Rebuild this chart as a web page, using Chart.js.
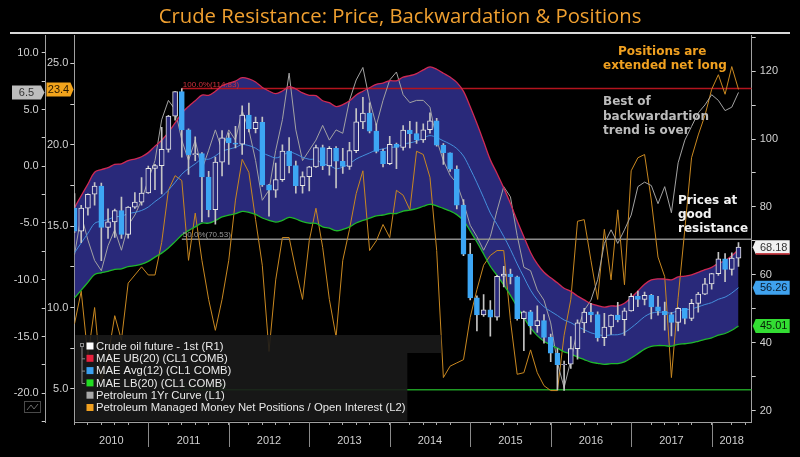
<!DOCTYPE html>
<html><head><meta charset="utf-8">
<style>html,body{margin:0;padding:0;background:#000;overflow:hidden}canvas{display:block}</style>
<script src="https://cdn.jsdelivr.net/npm/chart.js@4.4.0/dist/chart.umd.min.js"></script>
</head><body>
<canvas id="c" width="800" height="457"></canvas>
<script>
const TITLE = 'Crude Resistance: Price, Backwardation & Positions';
const yearLabels = ['2010','2011','2012','2013','2014','2015','2016','2017','2018'];
const months = [];
for (let y = 2010; y <= 2018; y++) for (let m = 1; m <= 12; m++) { if (y === 2018 && m > 4) break; months.push(y + '-' + String(m).padStart(2, '0')); }

const open = [79.63,72.86,79.66,83.76,86.15,73.97,75.63,78.95,71.92,79.97,81.43,84.11,
91.38,92.19,96.97,106.72,113.93,102.70,95.42,95.70,88.81,79.20,93.19,100.36,
98.83,98.48,107.07,103.02,104.87,86.53,84.96,88.06,96.47,92.19,86.24,88.91,
91.82,97.49,92.05,97.23,93.46,91.97,96.56,105.03,107.65,102.33,96.38,92.72,
98.42,97.49,102.59,101.58,99.74,102.71,105.37,98.17,95.96,91.16,80.54,66.15,
53.27,48.24,49.76,47.60,59.63,60.30,59.47,47.12,49.20,45.09,46.59,41.65,
37.04,33.62,33.75,38.34,45.92,49.10,48.33,41.60,44.70,48.24,46.86,49.44,
53.72,52.81,54.01,50.60,49.33,48.32,46.04,50.17,47.23,51.67,54.38,57.40,
60.42,64.73,61.64,64.94];
const high = [83.95,80.51,83.85,87.15,87.00,79.44,79.41,82.93,80.13,84.22,88.63,92.06,
92.58,103.41,106.95,113.93,114.83,102.97,100.62,95.98,90.52,94.65,102.44,101.78,
103.74,109.77,110.55,106.43,106.43,86.70,92.94,98.29,100.42,93.48,90.33,91.98,
98.24,98.24,97.80,97.80,97.26,99.04,108.93,112.24,110.67,104.46,97.00,100.75,
98.80,103.96,105.22,104.99,104.48,107.73,106.08,98.68,95.96,92.09,82.19,69.28,
53.85,54.24,52.48,59.90,62.58,61.75,59.69,49.35,49.58,50.92,48.36,42.59,
38.39,34.69,41.90,46.78,50.21,51.67,49.15,48.75,48.26,51.93,50.30,54.51,
55.24,54.94,54.28,53.76,52.00,48.97,50.43,50.22,52.86,54.90,59.05,60.51,
66.66,66.30,66.55,69.56];
const low = [72.43,69.50,77.57,80.56,64.24,70.75,71.02,70.76,70.82,79.56,80.56,84.00,
85.11,83.85,96.10,105.52,94.63,89.61,93.60,75.71,77.11,74.95,89.15,92.52,
97.38,95.44,102.06,101.80,86.03,77.28,82.80,87.53,90.03,84.05,84.05,84.70,
91.61,90.97,89.33,85.61,89.88,91.07,95.95,103.06,101.82,95.94,91.77,92.44,
91.24,96.70,97.37,98.73,98.98,101.68,97.86,92.50,90.45,79.44,65.69,52.70,
43.58,47.80,42.03,46.70,56.51,57.41,46.68,37.75,42.58,43.11,39.93,34.53,
26.19,26.05,32.53,35.24,43.03,46.19,40.57,39.19,42.52,46.18,42.20,49.39,
50.71,51.22,47.09,48.18,43.76,42.05,43.57,45.58,46.57,49.10,54.20,55.82,
59.85,58.07,59.95,62.50];
const close = [72.89,79.66,83.76,86.15,73.97,75.63,78.95,71.92,79.97,81.43,84.11,91.38,
92.19,96.97,106.72,113.93,102.70,95.42,95.70,88.81,79.20,93.19,100.36,98.83,
98.48,107.07,103.02,104.87,86.53,84.96,88.06,96.47,92.19,86.24,88.91,91.82,
97.49,92.05,97.23,93.46,91.97,96.56,105.03,107.65,102.33,96.38,92.72,98.42,
97.49,102.59,101.58,99.74,102.71,105.37,98.17,95.96,91.16,80.54,66.15,53.27,
48.24,49.76,47.60,59.63,60.30,59.47,47.12,49.20,45.09,46.59,41.65,37.04,
33.62,33.75,38.34,45.92,49.10,48.33,41.60,44.70,48.24,46.86,49.44,53.72,
52.81,54.01,50.60,49.33,48.32,46.04,50.17,47.23,51.67,54.38,57.40,60.42,
64.73,61.64,64.94,68.18];
const maeAvg = [66.52,69.43,72.27,75.19,75.83,76.31,77.10,77.27,78.05,78.41,78.98,79.99,
81.59,83.04,84.95,87.26,89.66,91.31,92.70,94.11,94.05,95.03,96.38,97.00,
97.53,98.37,98.06,97.30,95.96,95.09,94.45,95.09,96.17,95.59,94.64,94.05,
93.97,92.72,92.24,91.28,91.74,92.70,94.12,95.05,95.90,96.74,97.06,97.61,
97.61,98.49,98.85,99.37,100.27,101.00,100.43,99.46,98.52,97.20,94.99,91.23,
87.12,82.72,78.22,74.88,71.35,67.52,63.27,59.37,55.53,52.70,50.66,49.31,
48.09,46.76,45.98,44.84,43.91,42.98,42.52,42.14,42.41,42.43,43.08,44.47,
46.07,47.76,48.78,49.06,49.00,48.81,49.52,49.73,50.02,50.64,51.31,51.87,
52.86,53.49,54.69,56.26];
const maeUB = [79.82,83.32,86.72,90.23,91.00,91.57,92.52,92.72,93.66,94.09,94.78,95.99,
97.91,99.65,101.94,104.71,107.59,109.57,111.24,112.93,112.86,114.04,115.66,116.40,
117.04,118.04,117.67,116.76,115.15,114.11,113.34,114.11,115.40,114.71,113.57,112.86,
112.76,111.26,110.69,109.54,110.09,111.24,112.94,114.06,115.08,116.09,116.47,117.13,
117.13,118.19,118.62,119.24,120.32,121.20,120.52,119.35,118.22,116.64,113.99,109.48,
104.54,99.26,93.86,89.86,85.62,81.02,75.92,71.24,66.64,63.24,60.79,59.17,
57.71,56.11,55.18,53.81,52.69,51.58,51.02,50.57,50.89,50.92,51.70,53.36,
55.28,57.31,58.54,58.87,58.80,58.57,59.42,59.68,60.02,60.77,61.57,62.24,
63.43,64.19,65.63,67.51];
const maeLB = [53.22,55.54,57.82,60.15,60.66,61.05,61.68,61.82,62.44,62.73,63.18,63.99,
65.27,66.43,67.96,69.81,71.73,73.05,74.16,75.29,75.24,76.02,77.10,77.60,
78.02,78.70,78.45,77.84,76.77,76.07,75.56,76.07,76.94,76.47,75.71,75.24,
75.18,74.18,73.79,73.02,73.39,74.16,75.30,76.04,76.72,77.39,77.65,78.09,
78.09,78.79,79.08,79.50,80.22,80.80,80.34,79.57,78.82,77.76,75.99,72.98,
69.70,66.18,62.58,59.90,57.08,54.02,50.62,47.50,44.42,42.16,40.53,39.45,
38.47,37.41,36.78,35.87,35.13,34.38,34.02,33.71,33.93,33.94,34.46,35.58,
36.86,38.21,39.02,39.25,39.20,39.05,39.62,39.78,40.02,40.51,41.05,41.50,
42.29,42.79,43.75,45.01];
const curve1Yr = [-7.8,-4.3,-6.5,-8.3,-9.2,-7.0,-5.6,-7.4,-5.2,-4.3,-3.0,-1.2,
0.5,4.1,5.8,5.0,2.3,0.5,2.3,-0.3,1.4,3.2,1.4,3.2,
2.3,4.9,3.2,0.5,-3.0,-2.1,1.4,4.1,8.2,3.2,0.5,1.4,
2.3,3.6,2.3,3.2,2.9,5.8,7.6,8.7,5.8,3.6,5.8,7.6,
8.3,6.3,5.6,5.8,5.8,5.2,2.3,0.5,-0.8,-1.5,-3.2,-5.2,
-6.2,-7.4,-6.2,-3.9,-1.8,-2.7,-6.1,-8.9,-9.2,-10.9,-11.8,-13.8,
-17.3,-19.5,-17.1,-14.4,-12.7,-11.8,-10.0,-6.8,-5.6,-6.8,-5.6,-4.3,
-1.8,-1.4,-1.7,-3.3,-1.8,-4.1,0.3,2.3,3.5,4.7,5.4,6.3,
5.8,4.9,5.2,6.5];
const netPositions = [9.0,11.0,7.0,10.0,5.5,7.0,9.5,8.0,11.5,12.0,12.5,12.0,
12.0,14.0,17.2,18.1,17.8,12.9,15.8,12.9,10.5,8.6,10.5,12.9,
16.6,19.1,18.3,15.4,12.6,7.3,11.7,14.3,14.3,12.3,10.5,14.1,
16.1,13.7,10.5,8.2,12.9,14.8,17.0,18.4,13.5,14.1,15.1,14.3,
17.2,16.9,16.0,19.6,19.4,18.0,13.5,5.7,6.4,6.6,6.8,9.4,
11.1,12.6,13.2,13.5,13.5,9.2,5.9,6.0,7.4,6.0,5.2,4.9,
4.9,8.3,10.5,15.3,15.4,12.9,10.5,14.8,11.7,16.0,11.4,18.4,
19.2,19.4,16.6,13.1,11.9,5.7,10.6,14.8,19.2,20.6,21.8,23.4,
24.3,23.1,24.8,23.4];
const retraceLevels = [
  {label: '100.0%(114.83)', value: 114.83, color: '#b3141e', text: '#d0303c'},
  {label: '50.0%(70.53)', value: 70.53, color: '#8c8c8c', text: '#9a9a9a'},
  {label: '0.0%(26.23)', value: 26.23, color: '#1f9a24', text: '#2aa02a'}
];
const retraceFrom = '2011-05';

const X_MIN = 0.97, X_MAX = 101.97;
const xOf = i => i + 1; // month-end position
const BAND = '#29297a';
const C_UP = '#e6e6e6', C_DN = '#3da6f4', C_UB = '#cf2a55', C_AVG = '#4590dc', C_LB = '#1fb82a', C_GRAY = '#a3a3a3', C_OR = '#c98820';

const pts = arr => arr.map((v, i) => ({x: xOf(i), y: v}));
const rStart = xOf(months.indexOf(retraceFrom));

const datasets = [
  {type: 'bar', label: 'body', data: months.map((m, i) => ({x: xOf(i), y: [open[i], close[i]]})), yAxisID: 'y', xAxisID: 'x',
   grouped: false, barThickness: 5, borderWidth: 1, borderSkipped: false,
   backgroundColor: c => close[c.dataIndex] >= open[c.dataIndex] ? BAND : C_DN,
   borderColor: c => close[c.dataIndex] >= open[c.dataIndex] ? C_UP : C_DN, order: 1},
  {type: 'bar', label: 'wick', data: months.map((m, i) => ({x: xOf(i), y: [low[i], high[i]]})), yAxisID: 'y', xAxisID: 'x',
   grouped: false, barThickness: 1, borderWidth: 0, backgroundColor: '#c4c4c4', order: 2},
  {type: 'line', label: 'MAE UB(20) (CL1 COMB)', data: pts(maeUB), yAxisID: 'y', borderColor: C_UB, borderWidth: 1.3, pointRadius: 0, tension: 0.35, fill: false, order: 4},
  {type: 'line', label: 'MAE LB(20) (CL1 COMB)', data: pts(maeLB), yAxisID: 'y', borderColor: C_LB, borderWidth: 1.3, pointRadius: 0, tension: 0.35, fill: {target: 2}, backgroundColor: BAND, order: 5},
  {type: 'line', label: 'MAE Avg(12) (CL1 COMB)', data: pts(maeAvg), yAxisID: 'y', borderColor: C_AVG, borderWidth: 1, pointRadius: 0, tension: 0.35, fill: false, order: 6},
  {type: 'line', label: 'Petroleum 1Yr Curve (L1)', data: pts(curve1Yr), yAxisID: 'yL1', borderColor: C_GRAY, borderWidth: 1, pointRadius: 0, tension: 0, fill: false, order: 7},
  {type: 'line', label: 'Petroleum Managed Money Net Positions / Open Interest (L2)', data: pts(netPositions), yAxisID: 'yL2', borderColor: C_OR, borderWidth: 1, pointRadius: 0, tension: 0, fill: false, order: 8}
];
retraceLevels.forEach(r => datasets.push({type: 'line', label: r.label, data: [{x: rStart, y: r.value}, {x: X_MAX, y: r.value}], yAxisID: 'y',
  borderColor: r.color, borderWidth: 1.5, pointRadius: 0, fill: false, order: 9}));

const tickFont = {family: '"Liberation Sans", Arial, sans-serif', size: 11};
function leftAxis(min, max, width, weight, pad) {
  return {type: 'linear', position: 'left', weight, min, max,
    grid: {drawOnChartArea: false, tickLength: 4, tickColor: '#cfcfcf', tickWidth: 1},
    border: {display: true, color: '#a0a0a0', width: 1},
    ticks: {stepSize: 2.5, includeBounds: false, autoSkip: false, padding: pad, color: '#d2d2d2', font: tickFont,
      callback: v => Math.abs(v % 5) < 1e-6 ? v.toFixed(1) : ''},
    afterFit: s => { s.width = width; }};
}

function tag(ctx, x0, x1, tip, yc, h, text, bg, fg) {
  ctx.fillStyle = bg; ctx.beginPath();
  if (tip > x1) { ctx.moveTo(x0, yc - h/2); ctx.lineTo(x1, yc - h/2); ctx.lineTo(tip, yc); ctx.lineTo(x1, yc + h/2); ctx.lineTo(x0, yc + h/2); }
  else { ctx.moveTo(x1, yc - h/2); ctx.lineTo(x0, yc - h/2); ctx.lineTo(tip, yc); ctx.lineTo(x0, yc + h/2); ctx.lineTo(x1, yc + h/2); }
  ctx.closePath(); ctx.fill();
  ctx.fillStyle = fg; ctx.textAlign = 'center'; ctx.textBaseline = 'middle';
  ctx.fillText(text, (x0 + x1) / 2 + (tip > x1 ? 0 : 1), yc + 0.5);
}

const decor = {
  id: 'decor',
  afterDraw(chart) {
    const {ctx, chartArea: ca, scales} = chart;
    const xs = scales.x, yP = scales.y, y1 = scales.yL1, y2 = scales.yL2;
    ctx.save();
    // title
    ctx.fillStyle = '#f0a030'; ctx.font = '20.3px "Open Sans", sans-serif'; ctx.textAlign = 'center'; ctx.textBaseline = 'middle';
    ctx.fillText(TITLE, 400, 17);
    // top rule
    ctx.strokeStyle = '#d8d8d8'; ctx.lineWidth = 2; ctx.beginPath(); ctx.moveTo(10, 33); ctx.lineTo(790, 33); ctx.stroke();
    // year band
    ctx.font = '11px "Liberation Sans", Arial, sans-serif'; ctx.fillStyle = '#d0d0d0'; ctx.strokeStyle = '#8a8a8a'; ctx.lineWidth = 1;
    yearLabels.forEach((lab, k) => {
      const s = xs.getPixelForValue(12 * k), e = xs.getPixelForValue(12 * (k + 1));
      const a = Math.max(s, ca.left), b = Math.min(e, ca.right);
      if (k > 0) { const px = Math.round(s) + 0.5; ctx.beginPath(); ctx.moveTo(px, ca.bottom); ctx.lineTo(px, ca.bottom + 25); ctx.stroke(); }
      ctx.fillText(lab, (a + b) / 2, ca.bottom + 19);
    });
    // retracement labels
    ctx.font = '8px "Liberation Sans", Arial, sans-serif'; ctx.textAlign = 'left'; ctx.textBaseline = 'alphabetic';
    retraceLevels.forEach(r => { ctx.fillStyle = r.text; ctx.fillText(r.label, xs.getPixelForValue(rStart) + 1, yP.getPixelForValue(r.value) - 2); });
    // legend box
    ctx.fillStyle = 'rgba(26,26,26,0.9)';
    ctx.fillRect(ca.left + 1, 335, 366, 18);
    ctx.fillRect(ca.left + 1, 353, 332, ca.bottom - 353 - 1);
    const items = [['Crude oil future - 1st (R1)', '#ffffff'], ['MAE UB(20) (CL1 COMB)', '#e8203c'], ['MAE Avg(12) (CL1 COMB)', '#3aa0f0'],
      ['MAE LB(20) (CL1 COMB)', '#22dd22'], ['Petroleum 1Yr Curve (L1)', '#a8a8a8'], ['Petroleum Managed Money Net Positions / Open Interest (L2)', '#f0a020']];
    ctx.font = '11.3px "Liberation Sans", Arial, sans-serif'; ctx.textBaseline = 'middle';
    items.forEach((it, k) => {
      const yc = 346 + k * 12.3;
      ctx.fillStyle = it[1]; ctx.fillRect(86.5, yc - 3.5, 7, 7);
      ctx.fillStyle = '#e8e8e8'; ctx.fillText(it[0], 96, yc + 0.5);
    });
    ctx.strokeStyle = '#8a8a8a'; ctx.lineWidth = 1;
    ctx.strokeRect(80.5, 343.5, 3, 3);
    ctx.beginPath(); ctx.moveTo(82, 347); ctx.lineTo(82, 383.5);
    [358.3, 370.6, 383].forEach(yy => { ctx.moveTo(82, yy + 0.5); ctx.lineTo(85, yy + 0.5); });
    ctx.stroke();
    // annotations
    ctx.font = 'bold 12px "DejaVu Sans", Verdana, sans-serif'; ctx.textAlign = 'left'; ctx.textBaseline = 'middle';
    ctx.fillStyle = '#f0a020'; ctx.fillText('Positions are', 618, 52); ctx.fillText('extended net long', 603, 66);
    ctx.fillStyle = '#bcbcbc'; ctx.fillText('Best of', 603, 102); ctx.fillText('backwardartion', 603, 116.5); ctx.fillText('trend is over', 603, 131);
    ctx.fillStyle = '#f2f2f2'; ctx.fillText('Prices at', 678, 201); ctx.fillText('good', 678, 215); ctx.fillText('resistance', 678, 229);
    // value tags
    const n = close.length - 1;
    ctx.font = '11px "Liberation Sans", Arial, sans-serif';
    tag(ctx, 12, 41, 44.5, y1.getPixelForValue(curve1Yr[n]), 14, curve1Yr[n].toFixed(1), '#bdbdbd', '#333');
    tag(ctx, 46.5, 70.5, 73.5, y2.getPixelForValue(netPositions[n]), 14, netPositions[n].toFixed(1), '#f2a41c', '#2a1a00');
    const r = ca.right;
    const yc1 = yP.getPixelForValue(close[n]);
    tag(ctx, r + 4, r + 38, r + 1, yc1, 14, close[n].toFixed(2), '#f2f2f2', '#333');
    ctx.fillStyle = '#c0202a'; ctx.fillRect(r + 4, yc1 + 6, 34, 1.5);
    tag(ctx, r + 4, r + 38, r + 1, yP.getPixelForValue(maeAvg[n]), 14, maeAvg[n].toFixed(2), '#3fa2ee', '#0a1a2a');
    tag(ctx, r + 4, r + 38, r + 1, yP.getPixelForValue(maeLB[n]), 14, maeLB[n].toFixed(2), '#33dd33', '#062006');
    // small chart icon
    ctx.strokeStyle = '#4a4a4a'; ctx.lineWidth = 1; ctx.strokeRect(24.5, 401.5, 16, 11);
    ctx.strokeStyle = '#6a6a6a'; ctx.beginPath(); ctx.moveTo(27, 410); ctx.lineTo(31, 405); ctx.lineTo(34, 409); ctx.lineTo(38, 404); ctx.stroke();
    ctx.restore();
  }
};

new Chart(document.getElementById('c'), {
  type: 'bar',
  data: {datasets},
  options: {
    responsive: false, animation: false, devicePixelRatio: 1,
    layout: {padding: {top: 35, left: 0, right: 0, bottom: 0}},
    plugins: {legend: {display: false}, title: {display: false}, tooltip: {enabled: false}, filler: {drawTime: 'beforeDatasetsDraw'}},
    scales: {
      x: {type: 'linear', min: X_MIN, max: X_MAX, offset: false,
        grid: {drawOnChartArea: false, tickLength: 3, tickColor: '#aaaaaa'},
        border: {display: true, color: '#a0a0a0', width: 1},
        ticks: {autoSkip: false, callback: () => '', font: tickFont},
        afterBuildTicks: s => { const t = []; for (let v = 2; v < X_MAX; v += 2) if (v % 12 !== 0) t.push({value: v}); s.ticks = t; },
        afterFit: s => { s.height = 35; }},
      yL1: leftAxis(-22.53, 11.56, 45.7, 2, 3),
      yL2: leftAxis(2.97, 26.74, 28.6, 1, 2),
      y: {type: 'linear', position: 'right', min: 16.76, max: 130.59,
        grid: {drawOnChartArea: false, tickLength: 4, tickColor: '#cfcfcf'},
        border: {display: true, color: '#a0a0a0', width: 1},
        ticks: {stepSize: 10, includeBounds: false, autoSkip: false, padding: 4, color: '#d2d2d2', font: tickFont,
          callback: v => v % 20 === 0 ? String(v) : ''},
        afterFit: s => { s.width = 48.3; }}
    }
  },
  plugins: [decor]
});
</script>
</body></html>
